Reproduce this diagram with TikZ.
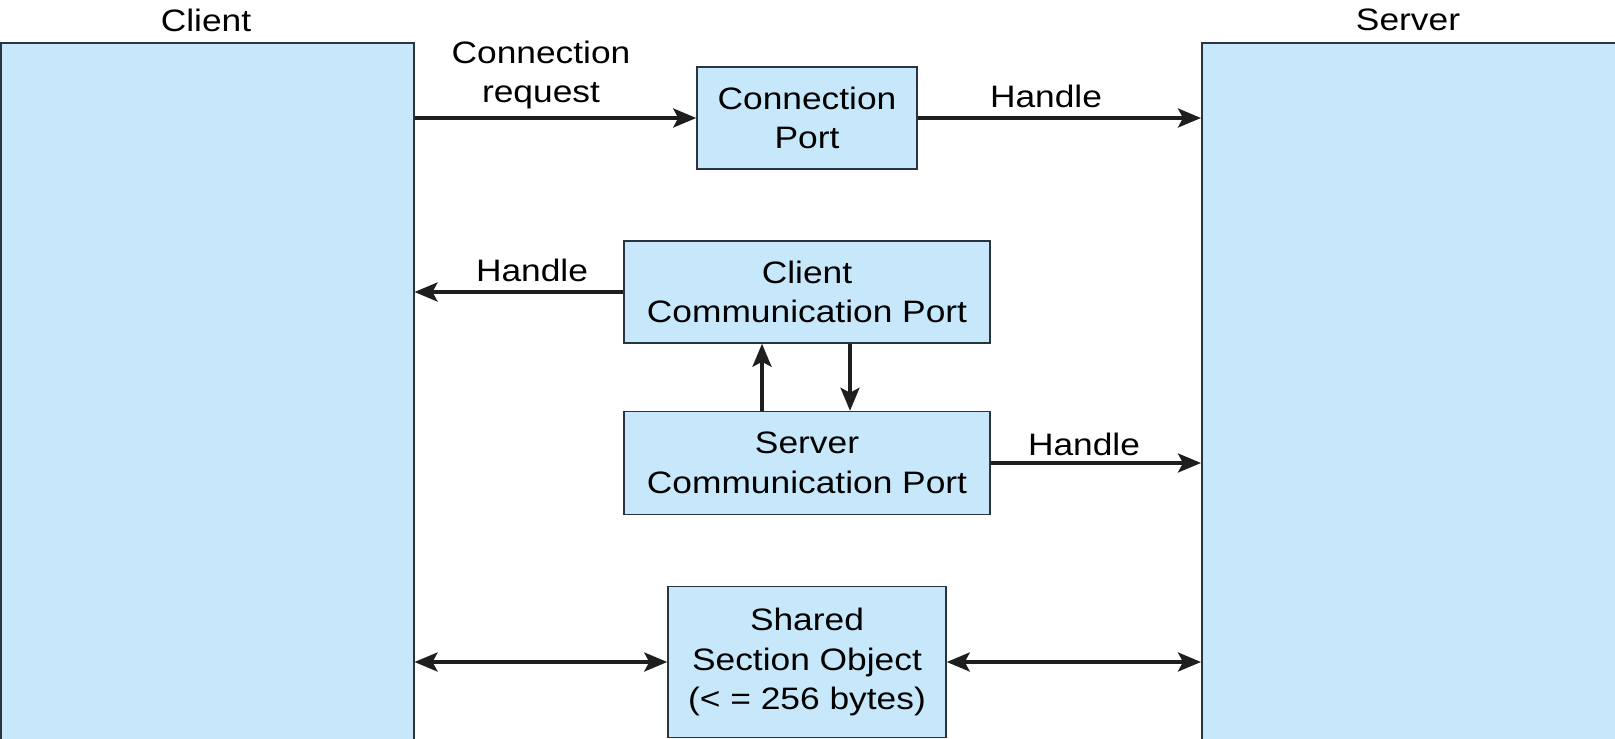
\documentclass[tikz,border=0pt]{standalone}
\usepackage{fontspec}
\setmainfont{Liberation Sans}[FakeStretch=1.14]
\usetikzlibrary{arrows.meta}
\definecolor{boxfill}{RGB}{199,232,250}
\definecolor{boxline}{RGB}{40,52,64}
\definecolor{arrowcol}{RGB}{30,30,30}
\tikzset{
  box/.style={draw=boxline, line width=1.5pt, fill=boxfill, inner sep=0pt, align=center},
  conn/.style={draw=arrowcol, line width=3.5pt, -{Stealth[length=23pt,width=19pt,inset=5pt]}},
  dconn/.style={draw=arrowcol, line width=3.5pt, {Stealth[length=23pt,width=19pt,inset=5pt]}-{Stealth[length=23pt,width=19pt,inset=5pt]}},
  lbl/.style={inner sep=0pt, align=center},
  every node/.append style={font=\fontsize{31}{39.5}\selectfont},
}
\begin{document}
\begin{tikzpicture}[x=1pt,y=-1pt]
\useasboundingbox (0,0) rectangle (1615,739);
\node[box, minimum width=413pt, minimum height=698pt, anchor=north west] (client) at (0,42) {};
\node[box, minimum width=414pt, minimum height=698pt, anchor=north west] (server) at (1201,42) {};
\node[lbl] (clientlbl) at (206,20) {Client};
\node[lbl] (serverlbl) at (1408,20) {Server};

\node[box, minimum width=220pt, minimum height=102pt] (cp) at (807,118) {Connection\\Port};
\node[box, minimum width=366pt, minimum height=102pt] (ccp) at (807,292) {Client\\Communication Port};
\node[box, minimum width=366pt, minimum height=103pt] (scp) at (807,463) {Server\\Communication Port};
\node[box, minimum width=278pt, minimum height=151pt] (sso) at (807,662) {Shared\\Section Object\\(< = 256 bytes)};

\draw[conn] (cp.west -| client.east) -- (cp.west);
\draw[conn] (cp.east) -- (cp.east -| server.west);
\draw[conn] (ccp.west) -- (ccp.west -| client.east);
\draw[conn] (scp.east) -- (scp.east -| server.west);
\coordinate (upx) at (762,0);
\coordinate (dnx) at (850,0);
\draw[conn] (scp.north -| upx) -- (ccp.south -| upx);
\draw[conn] (ccp.south -| dnx) -- (scp.north -| dnx);
\draw[dconn] (sso.west -| client.east) -- (sso.west);
\draw[dconn] (sso.east) -- (sso.east -| server.west);

\node[lbl] (reqlbl) at (541,75) {Connection\\request};
\node[lbl] (h1) at (1046,96) {Handle};
\node[lbl] (h2) at (532,270) {Handle};
\node[lbl] (h3) at (1084,444) {Handle};
\end{tikzpicture}
\end{document}
